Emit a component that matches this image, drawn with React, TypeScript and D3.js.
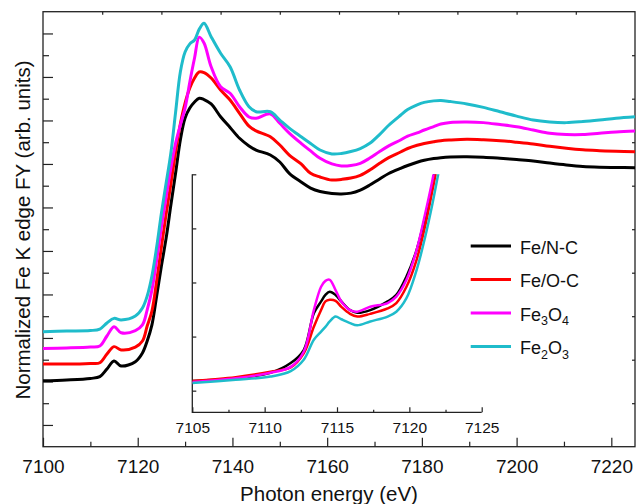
import React, { useEffect, useRef } from 'react'
import * as d3 from 'd3'

// main panel: photon energy (eV) and normalized FY intensity (offset for clarity)
const energy = [
  7100, 7105, 7110, 7112, 7113.5, 7115, 7116.5, 7119.5, 7121, 7122, 7123, 7124, 7125, 7126, 7127, 7128, 7129,
  7130, 7131, 7132, 7133, 7134, 7135.5, 7137.5, 7139.5, 7141.5, 7143.5, 7145, 7148, 7150, 7152, 7154.5, 7156.5,
  7158.5, 7161, 7163, 7165, 7167, 7169, 7171, 7173, 7175.5, 7177, 7179, 7180.5, 7182.5, 7184, 7186, 7189.5, 7193,
  7196.5, 7200, 7203.5, 7207, 7210.5, 7214, 7217.5, 7221, 7225,
]
const feNC = [
  0.303, 0.307, 0.314, 0.322, 0.357, 0.394, 0.371, 0.391, 0.431, 0.486, 0.56, 0.693, 0.831, 0.959, 1.111, 1.258,
  1.41, 1.511, 1.557, 1.585, 1.602, 1.596, 1.576, 1.517, 1.468, 1.418, 1.383, 1.364, 1.341, 1.309, 1.257, 1.217,
  1.189, 1.173, 1.164, 1.162, 1.166, 1.18, 1.203, 1.23, 1.256, 1.28, 1.293, 1.308, 1.317, 1.325, 1.329, 1.332,
  1.333, 1.331, 1.326, 1.32, 1.314, 1.304, 1.295, 1.288, 1.285, 1.284, 1.283,
]
const feOC = [
  0.38, 0.38, 0.383, 0.386, 0.426, 0.46, 0.445, 0.458, 0.486, 0.555, 0.624, 0.762, 0.918, 1.07, 1.208, 1.355,
  1.484, 1.58, 1.649, 1.695, 1.723, 1.72, 1.695, 1.64, 1.594, 1.533, 1.474, 1.452, 1.425, 1.387, 1.341, 1.3,
  1.257, 1.24, 1.226, 1.229, 1.235, 1.248, 1.272, 1.302, 1.329, 1.355, 1.371, 1.386, 1.394, 1.402, 1.407, 1.41,
  1.413, 1.411, 1.407, 1.4, 1.392, 1.381, 1.372, 1.365, 1.361, 1.358, 1.356,
]
const fe3o4 = [
  0.452, 0.454, 0.458, 0.463, 0.509, 0.552, 0.524, 0.534, 0.56, 0.629, 0.721, 0.858, 1.01, 1.148, 1.281, 1.396,
  1.479, 1.557, 1.677, 1.787, 1.883, 1.856, 1.747, 1.655, 1.625, 1.563, 1.516, 1.51, 1.53, 1.487, 1.442, 1.395,
  1.36, 1.326, 1.3, 1.291, 1.293, 1.303, 1.327, 1.356, 1.383, 1.41, 1.428, 1.443, 1.456, 1.472, 1.484, 1.491,
  1.493, 1.49, 1.481, 1.471, 1.456, 1.441, 1.435, 1.435, 1.441, 1.447, 1.452,
]
const fe2o3 = [
  0.529, 0.532, 0.534, 0.541, 0.569, 0.59, 0.583, 0.601, 0.638, 0.693, 0.785, 0.918, 1.074, 1.212, 1.35, 1.538,
  1.723, 1.815, 1.852, 1.87, 1.92, 1.947, 1.885, 1.809, 1.747, 1.64, 1.563, 1.54, 1.54, 1.502, 1.465, 1.425,
  1.394, 1.364, 1.346, 1.348, 1.357, 1.371, 1.395, 1.434, 1.478, 1.524, 1.55, 1.572, 1.583, 1.59, 1.592, 1.587,
  1.576, 1.56, 1.54, 1.52, 1.502, 1.493, 1.49, 1.495, 1.502, 1.51, 1.517,
]

// inset: pre-edge region, no offset
const insetEnergy = [
  7105, 7108, 7110.4, 7111.8, 7112.7, 7113.4, 7113.9, 7114.2, 7114.5, 7114.9, 7115.3, 7115.9, 7116.4, 7117.3,
  7118.5, 7119.1, 7119.8, 7120.5, 7121.1, 7121.6, 7122, 7122.5,
]
const insetFeNC = [
  0.018, 0.023, 0.033, 0.051, 0.075, 0.143, 0.165, 0.177, 0.183, 0.177, 0.165, 0.149, 0.144, 0.149, 0.165, 0.177,
  0.211, 0.26, 0.322, 0.383, 0.439, 0.504,
]
const insetFeOC = [
  0.018, 0.025, 0.035, 0.043, 0.069, 0.118, 0.149, 0.165, 0.168, 0.166, 0.155, 0.142, 0.137, 0.142, 0.152, 0.162,
  0.192, 0.242, 0.306, 0.371, 0.425, 0.491,
]
const insetFe3O4 = [
  0.016, 0.023, 0.033, 0.044, 0.072, 0.149, 0.192, 0.203, 0.205, 0.186, 0.165, 0.149, 0.146, 0.155, 0.162, 0.174,
  0.205, 0.26, 0.328, 0.39, 0.449, 0.515,
]
const insetFe2O3 = [
  0.014, 0.02, 0.026, 0.036, 0.057, 0.094, 0.109, 0.118, 0.128, 0.137, 0.132, 0.125, 0.121, 0.128, 0.137, 0.146,
  0.171, 0.223, 0.285, 0.346, 0.401, 0.469,
]

// legend labels, split into [text, isSubscript] parts
const seriesLabels: [string, boolean][][] = [
  [['Fe/N-C', false]],
  [['Fe/O-C', false]],
  [['Fe', false], ['3', true], ['O', false], ['4', true]],
  [['Fe', false], ['2', true], ['O', false], ['3', true]],
]
const seriesColors = ['#000000', '#ff0000', '#ff00ff', '#1fbccb']

const mainXTicks = [7100, 7120, 7140, 7160, 7180, 7200, 7220]
const mainXMinor = [7110, 7130, 7150, 7170, 7190, 7210]
const insetXTicks = [7105, 7110, 7115, 7120, 7125]
const insetXMinor = [7107.5, 7112.5, 7117.5, 7122.5]
const insetYTicks = [0, 0.1, 0.2, 0.3, 0.4]

const FONT = '"Liberation Sans", Arial, Helvetica, sans-serif'

const App = () => {
  const svgRef = useRef<SVGSVGElement>(null)

  useEffect(() => {
    const svg = d3.select(svgRef.current)
    svg.selectAll('*').remove()

    const plot = { left: 43, right: 635, top: 11.7, bottom: 446.7 }
    const x = d3.scaleLinear().domain([7100, 7225]).range([plot.left, plot.right])
    const y = d3.scaleLinear().domain([0, 2]).range([plot.bottom, plot.top])

    const inset = { left: 192.3, right: 481.7, top: 174.3, bottom: 412.3 }
    const ix = d3.scaleLinear().domain([7105, 7125]).range([inset.left, inset.right])
    const iy = d3.scaleLinear().domain([-0.04, 0.4]).range([inset.bottom, inset.top])

    const defs = svg.append('defs')
    defs
      .append('clipPath')
      .attr('id', 'main-clip')
      .append('rect')
      .attr('x', plot.left)
      .attr('y', plot.top)
      .attr('width', plot.right - plot.left)
      .attr('height', plot.bottom - plot.top)
    defs
      .append('clipPath')
      .attr('id', 'inset-clip')
      .append('rect')
      .attr('x', inset.left)
      .attr('y', inset.top)
      .attr('width', inset.right - inset.left)
      .attr('height', inset.bottom - inset.top)

    const tidy = (g: any) => {
      g.attr('font-family', FONT)
      g.select('.domain').remove()
      g.selectAll('line').attr('stroke', '#222').attr('stroke-width', 1.2)
      g.selectAll('text').attr('fill', '#111')
    }

    // main axes, ticks pointing inward
    svg
      .append('g')
      .attr('transform', `translate(0,${plot.bottom})`)
      .call(d3.axisBottom(x).tickValues(mainXTicks).tickSize(-9).tickPadding(12.5).tickFormat(d3.format('d')))
      .call(tidy)
      .attr('font-size', 19)
    svg
      .append('g')
      .attr('transform', `translate(0,${plot.bottom})`)
      .call(d3.axisBottom(x).tickValues(mainXMinor).tickSize(-5).tickFormat(() => ''))
      .call(tidy)
    svg
      .append('g')
      .attr('transform', `translate(0,${plot.top})`)
      .call(d3.axisTop(x).tickValues(d3.range(1, 10).map(i => 7100 + i * 12.5)).tickSize(-3).tickFormat(() => ''))
      .call(tidy)
    svg
      .append('g')
      .attr('transform', `translate(${plot.left},0)`)
      .call(d3.axisLeft(y).tickValues(d3.range(1, 20, 2).map(i => i / 10)).tickSize(-10).tickFormat(() => ''))
      .call(tidy)
    svg
      .append('g')
      .attr('transform', `translate(${plot.left},0)`)
      .call(d3.axisLeft(y).tickValues(d3.range(2, 20, 2).map(i => i / 10)).tickSize(-6).tickFormat(() => ''))
      .call(tidy)
    svg
      .append('g')
      .attr('transform', `translate(${plot.right},0)`)
      .call(d3.axisRight(y).tickValues(d3.range(2, 20, 2).map(i => i / 10)).tickSize(-3).tickFormat(() => ''))
      .call(tidy)

    svg
      .append('rect')
      .attr('x', plot.left)
      .attr('y', plot.top)
      .attr('width', plot.right - plot.left)
      .attr('height', plot.bottom - plot.top)
      .attr('fill', 'none')
      .attr('stroke', '#222')
      .attr('stroke-width', 1.3)

    // main curves
    const mainSeries = [feNC, feOC, fe3o4, fe2o3]
    const line = d3
      .line<[number, number]>()
      .x(d => x(d[0]))
      .y(d => y(d[1]))
      .curve(d3.curveCatmullRom.alpha(0.5))
    svg
      .append('g')
      .attr('clip-path', 'url(#main-clip)')
      .selectAll('path')
      .data(mainSeries)
      .enter()
      .append('path')
      .attr('d', s => line(d3.zip(energy, s) as [number, number][]))
      .attr('fill', 'none')
      .attr('stroke', (_, i) => seriesColors[i])
      .attr('stroke-width', 3)
      .attr('stroke-linejoin', 'round')

    // inset axes
    svg
      .append('g')
      .attr('transform', `translate(0,${inset.bottom})`)
      .call(d3.axisBottom(ix).tickValues(insetXTicks).tickSize(-5).tickPadding(9.5).tickFormat(d3.format('d')))
      .call(tidy)
      .attr('font-size', 15.5)
    svg
      .append('g')
      .attr('transform', `translate(0,${inset.bottom})`)
      .call(d3.axisBottom(ix).tickValues(insetXMinor).tickSize(-2.5).tickFormat(() => ''))
      .call(tidy)
    svg
      .append('g')
      .attr('transform', `translate(${inset.left},0)`)
      .call(d3.axisLeft(iy).tickValues(insetYTicks).tickSize(-4).tickFormat(() => ''))
      .call(tidy)
    svg
      .append('path')
      .attr('d', `M${inset.left},${inset.top}V${inset.bottom}H${inset.right}`)
      .attr('fill', 'none')
      .attr('stroke', '#222')
      .attr('stroke-width', 1.3)

    const insetSeries = [insetFeNC, insetFeOC, insetFe3O4, insetFe2O3]
    const insetLine = d3
      .line<[number, number]>()
      .x(d => ix(d[0]))
      .y(d => iy(d[1]))
      .curve(d3.curveCatmullRom.alpha(0.5))
    svg
      .append('g')
      .attr('clip-path', 'url(#inset-clip)')
      .selectAll('path')
      .data(insetSeries)
      .enter()
      .append('path')
      .attr('d', s => insetLine(d3.zip(insetEnergy, s) as [number, number][]))
      .attr('fill', 'none')
      .attr('stroke', (_, i) => seriesColors[i])
      .attr('stroke-width', 2.5)
      .attr('stroke-linejoin', 'round')

    // legend
    const legend = svg.append('g').attr('font-family', FONT).attr('font-size', 18)
    seriesLabels.forEach((parts, i) => {
      const ly = 246 + i * 33.5
      legend
        .append('line')
        .attr('x1', 470.7)
        .attr('x2', 511)
        .attr('y1', ly)
        .attr('y2', ly)
        .attr('stroke', seriesColors[i])
        .attr('stroke-width', 3)
      const text = legend.append('text').attr('x', 520).attr('y', ly + 7.5).attr('fill', '#111')
      let shifted = false
      parts.forEach(([t, sub]) => {
        const ts = text.append('tspan').text(t)
        if (sub && !shifted) {
          ts.attr('dy', 4.5).attr('font-size', 12.5)
          shifted = true
        } else if (!sub && shifted) {
          ts.attr('dy', -4.5)
          shifted = false
        } else if (sub) {
          ts.attr('font-size', 12.5)
        }
      })
    })

    // axis titles
    svg
      .append('text')
      .attr('x', 329)
      .attr('y', 501.3)
      .attr('text-anchor', 'middle')
      .attr('font-family', FONT)
      .attr('font-size', 20.5)
      .attr('fill', '#111')
      .text('Photon energy (eV)')
    svg
      .append('text')
      .attr('transform', 'translate(29.5,230) rotate(-90)')
      .attr('text-anchor', 'middle')
      .attr('font-family', FONT)
      .attr('font-size', 20.5)
      .attr('fill', '#111')
      .text('Normalized Fe K edge FY (arb. units)')
  }, [])

  return <svg ref={svgRef} width={636} height={504} style={{ position: 'absolute', left: 0, top: 0, background: '#fff' }} />
}

export default App
